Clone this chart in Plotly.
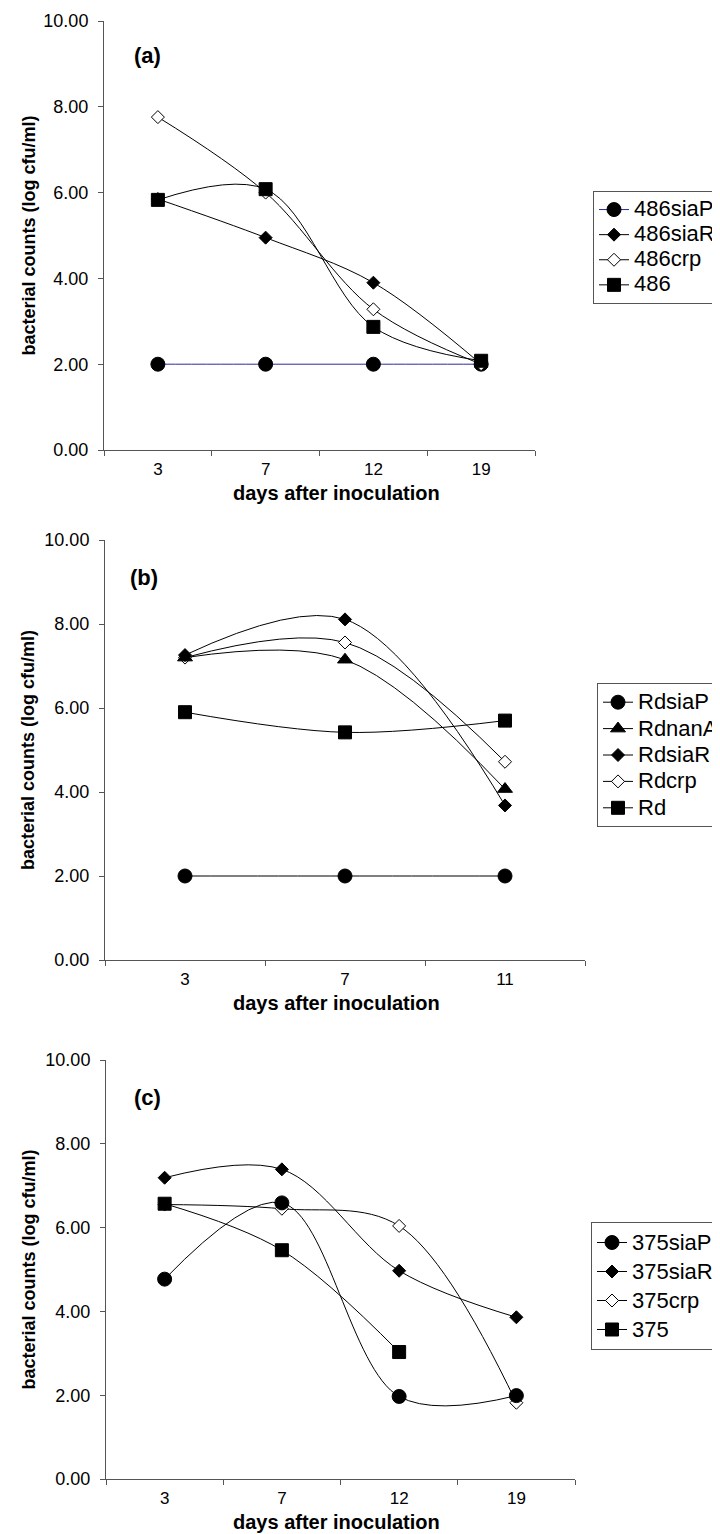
import plotly.graph_objects as go

W, H = 720, 1534

# ---------------- data ----------------
days_a = ["3", "7", "12", "19"]
names_a = ["486siaP", "486siaR", "486crp", "486"]
a_siaP = [2.00, 2.00, 2.00, 2.00]
a_siaR = [5.85, 4.95, 3.90, 2.00]
a_crp = [7.76, 6.00, 3.28, 2.00]
a_wt = [5.83, 6.08, 2.87, 2.08]

days_b = ["3", "7", "11"]
names_b = ["RdsiaP", "RdnanA", "RdsiaR", "Rdcrp", "Rd"]
b_siaP = [2.00, 2.00, 2.00]
b_nanA = [7.20, 7.15, 4.07]
b_siaR = [7.26, 8.11, 3.68]
b_crp = [7.20, 7.56, 4.72]
b_wt = [5.90, 5.42, 5.70]

days_c = ["3", "7", "12", "19"]
names_c = ["375siaP", "375siaR", "375crp", "375"]
c_siaP = [4.77, 6.59, 1.97, 1.99]
c_siaR = [7.19, 7.39, 4.97, 3.86]
c_crp = [6.55, 6.45, 6.04, 1.82]
c_wt = [6.57, 5.46, 3.03, None]

y_ticks = [0, 2, 4, 6, 8, 10]
panel_labels = ["(a)", "(b)", "(c)"]
x_title = "days after inoculation"
y_title = "bacterial counts (log cfu/ml)"

# ---------------- styles ----------------
FONT = "Arial, 'Liberation Sans', Helvetica, sans-serif"
AX = "#555555"
STY = {
    "circle": dict(symbol="circle", size=14, color="black"),
    "diamond": dict(symbol="diamond", size=10, color="black"),
    "open": dict(symbol="diamond", size=10, color="white"),
    "square": dict(symbol="square", size=13, color="black"),
    "triangle": dict(symbol="triangle-up", size=13, color="black"),
}


def px(v, total):
    return v / total


fig = go.Figure()


def add(x, y, name, kind, xa, ya, leg, rank, lcolor="black"):
    m = dict(STY[kind])
    m["line"] = dict(color="black", width=1)
    fig.add_trace(go.Scatter(
        x=x, y=y, name="<span style='font-size:22px'>%s</span>" % name,
        mode="lines+markers", line=dict(color=lcolor, width=1, shape="spline"),
        marker=m, xaxis=xa, yaxis=ya, legend=leg, legendrank=rank,
        connectgaps=False,
    ))

# panel a (draw order chosen for overlap; legend order via rank)
add(days_a, a_siaP, names_a[0], "circle", "x", "y", "legend", 1, lcolor="#2b2b9b")
add(days_a, a_siaR, names_a[1], "diamond", "x", "y", "legend", 2)
add(days_a, a_crp, names_a[2], "open", "x", "y", "legend", 3)
add(days_a, a_wt, names_a[3], "square", "x", "y", "legend", 4)

# panel b
add(days_b, b_siaP, names_b[0], "circle", "x2", "y2", "legend2", 1)
add(days_b, b_crp, names_b[3], "open", "x2", "y2", "legend2", 4)
add(days_b, b_nanA, names_b[1], "triangle", "x2", "y2", "legend2", 2)
add(days_b, b_siaR, names_b[2], "diamond", "x2", "y2", "legend2", 3)
add(days_b, b_wt, names_b[4], "square", "x2", "y2", "legend2", 5)

# panel c
add(days_c, c_crp, names_c[2], "open", "x3", "y3", "legend3", 3)
add(days_c, c_siaR, names_c[1], "diamond", "x3", "y3", "legend3", 2)
add(days_c, c_siaP, names_c[0], "circle", "x3", "y3", "legend3", 1)
add(days_c, c_wt, names_c[3], "square", "x3", "y3", "legend3", 4)

# ---------------- layout ----------------
panels = [
    dict(xl=96, xr=527, yt=13, yb=442, cats=days_a, lx=585, lt=183, lfs=17, lab=(139, 47)),
    dict(xl=97, xr=577, yt=532, yb=952, cats=days_b, lx=589, lt=675, lfs=18, lab=(136, 569)),
    dict(xl=98, xr=567, yt=1052, yb=1471, cats=days_c, lx=583, lt=1214, lfs=20, lab=(139, 1089)),
]

layout = dict(
    width=W, height=H,
    margin=dict(l=0, r=0, t=0, b=0, autoexpand=False),
    paper_bgcolor="white", plot_bgcolor="white",
    font=dict(family=FONT, color="black"),
    annotations=[],
)


def ann(text, x, y, size, angle=0):
    return dict(text=text, x=px(x, W), y=1 - px(y, H), xref="paper", yref="paper",
                xanchor="center", yanchor="middle", textangle=angle,
                showarrow=False, font=dict(size=size, family=FONT, color="black"))


for i, p in enumerate(panels):
    sfx = "" if i == 0 else str(i + 1)
    n = len(p["cats"])
    layout["xaxis" + sfx] = dict(
        domain=[px(p["xl"], W), px(p["xr"], W)],
        anchor="y" + sfx, type="category",
        categoryorder="array", categoryarray=p["cats"],
        range=[-0.5, n - 0.5], tickson="boundaries",
        ticks="outside", ticklen=5, tickcolor=AX, tickwidth=1,
        showline=True, linecolor=AX, linewidth=1,
        showgrid=False, zeroline=False,
        tickfont=dict(size=17, family=FONT, color="black"),
        ticklabelstandoff=4,
    )
    layout["yaxis" + sfx] = dict(
        domain=[1 - px(p["yb"], H), 1 - px(p["yt"], H)],
        anchor="x" + sfx, range=[0, 10],
        tickmode="array", tickvals=y_ticks, tickformat=".2f",
        ticks="outside", ticklen=5, tickcolor=AX, tickwidth=1,
        showline=True, linecolor=AX, linewidth=1,
        showgrid=False, zeroline=False,
        tickfont=dict(size=18, family=FONT, color="black"),
        ticklabelstandoff=6,
    )
    leg = "legend" + sfx
    layout[leg] = dict(
        x=px(p["lx"], W), xanchor="left",
        y=1 - px(p["lt"], H), yanchor="top",
        bordercolor=AX, borderwidth=1, bgcolor="white",
        font=dict(size=p["lfs"], family=FONT, color="black"),
        traceorder="normal", itemclick=False,
    )
    layout["annotations"] += [
        ann("<b>%s</b>" % y_title, 20, (p["yt"] + p["yb"]) / 2, 18, -90),
        ann("<b>%s</b>" % x_title, 328, p["yb"] + 43, 20),
        ann("<b>%s</b>" % panel_labels[i], p["lab"][0], p["lab"][1], 22),
    ]

fig.update_layout(**layout)
fig.write_html("out.html")
